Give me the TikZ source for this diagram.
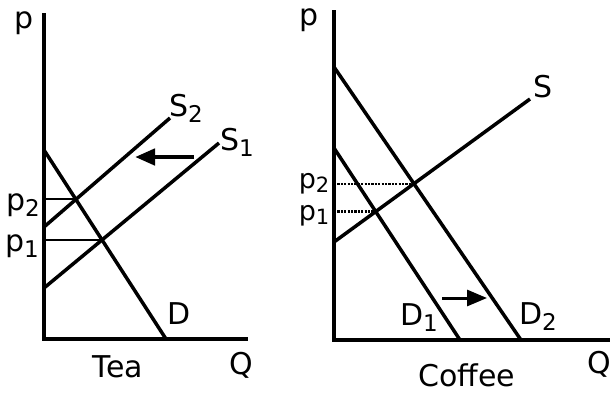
\documentclass[tikz,border=0pt]{standalone}
\usepackage{fontspec}
\setmainfont{DejaVu Sans}
\usetikzlibrary{arrows.meta}
\newcommand{\lowidx}[1]{\raisebox{-6pt}{\fontsize{23}{23}\selectfont #1}}
\newcommand{\tinyidx}[1]{\raisebox{-4pt}{\fontsize{21}{21}\selectfont #1}}

\begin{document}
\begin{tikzpicture}[
    x=1pt, y=-1pt,
    axis/.style={line width=4.5pt},
    curve/.style={line width=3.5pt},
    guide/.style={line width=2pt},
    dguide/.style={line width=2.2pt, dash pattern=on 2.2pt off 1.2pt},
    shiftarr/.style={-{Triangle[length=20pt,width=16pt]}, line width=4.5pt},
    lbl/.style={font=\fontsize{30}{30}\selectfont, inner sep=0pt},
    smalllbl/.style={font=\fontsize{27}{27}\selectfont, inner sep=0pt},
]
\useasboundingbox (0,0) rectangle (610,392);

% tea market
\coordinate (tO) at (44,339);
\coordinate (tP) at (44,13);
\coordinate (tQ) at (248,339);
\coordinate (tDa) at (44,150);
\coordinate (tDb) at (166,339);
\coordinate (tSa) at (44,288);
\coordinate (tSb) at (219,143);
\coordinate (tTa) at (44,227);
\coordinate (tTb) at (170,118);
\coordinate (tE1) at (intersection of tDa--tDb and tSa--tSb);
\coordinate (tE2) at (intersection of tDa--tDb and tTa--tTb);
\coordinate (tArA) at (194,157);
\coordinate (tArB) at (135,157);

\draw[guide] (tE2 -| tO) -- (tE2);
\draw[guide] (tE1 -| tO) -- (tE1);
\draw[curve] (tDa) -- (tDb);
\draw[curve] (tSa) -- (tSb);
\draw[curve] (tTa) -- (tTb);
\draw[axis] (tP) -- (tO) -- (tQ);
\draw[shiftarr] (tArA) -- (tArB);

\node[lbl] (tpl)  at (24,23)   {p};
\node[lbl] (tp2)  at (23,205)  {p\lowidx{2}};
\node[lbl] (tp1)  at (22,246)  {p\lowidx{1}};
\node[lbl] (ts2)  at (186,108) {S\lowidx{2}};
\node[lbl] (ts1)  at (237,142) {S\lowidx{1}};
\node[lbl] (td)   at (179,314) {D};
\node[lbl] (ttea) at (118,367) {Tea};
\node[lbl] (tql)  at (241,365) {Q};

% coffee market
\coordinate (cO) at (334,340);
\coordinate (cP) at (334,10);
\coordinate (cQ) at (610,340);
\coordinate (cDa) at (334,67);
\coordinate (cDb) at (521,340);
\coordinate (cCa) at (334,148);
\coordinate (cCb) at (460,340);
\coordinate (cSa) at (334,242);
\coordinate (cSb) at (530,99);
\coordinate (cE1) at (intersection of cCa--cCb and cSa--cSb);
\coordinate (cE2) at (intersection of cDa--cDb and cSa--cSb);
\coordinate (cArA) at (442,298);
\coordinate (cArB) at (487,298);

\draw[dguide] (cE2 -| cO) -- (cE2);
\draw[dguide] (cE1 -| cO) -- (cE1);
\draw[curve] (cDa) -- (cDb);
\draw[curve] (cCa) -- (cCb);
\draw[curve] (cSa) -- (cSb);
\draw[axis] (cP) -- (cO) -- (cQ);
\draw[shiftarr, line width=3pt] (cArA) -- (cArB);

\node[lbl] (cpl)  at (309,20)  {p};
\node[smalllbl] (cp2) at (314,184) {p\tinyidx{2}};
\node[smalllbl] (cp1) at (314,216) {p\tinyidx{1}};
\node[lbl] (cs)   at (543,87)  {S};
\node[lbl] (cd1)  at (419,318) {D\lowidx{1}};
\node[lbl] (cd2)  at (538,317) {D\lowidx{2}};
\node[lbl] (ccof) at (467,375) {Coffee};
\node[lbl] (cql)  at (599,364) {Q};
\end{tikzpicture}
\end{document}
